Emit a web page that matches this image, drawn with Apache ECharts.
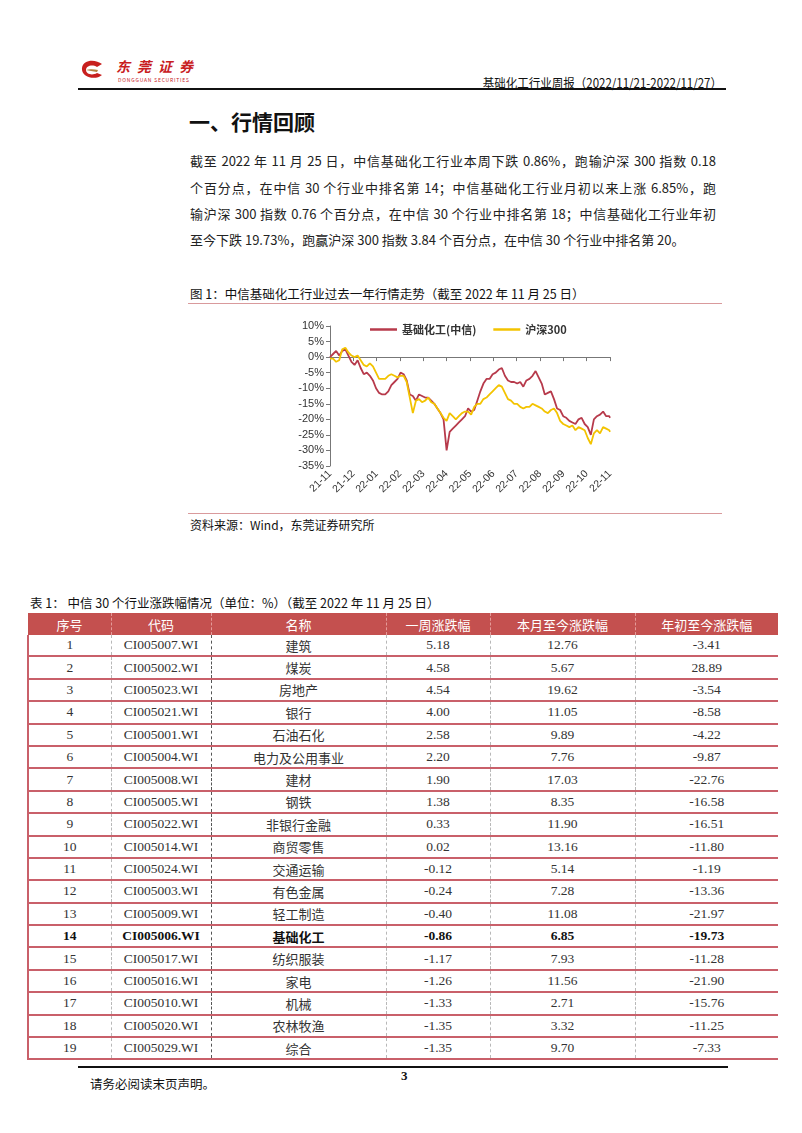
<!DOCTYPE html>
<html>
<head>
<meta charset="utf-8">
<script src="https://cdn.jsdelivr.net/npm/echarts@6/dist/echarts.min.js"></script>
<style>
  html, body { margin: 0; padding: 0; background: #fff; }
  body { width: 802px; height: 1133px; position: relative; overflow: hidden;
         font-family: "Noto Sans CJK SC", "Noto Sans", sans-serif; color: #222; }
  .abs { position: absolute; white-space: nowrap; }
  .serif { font-family: "Liberation Serif", "Noto Sans CJK SC", serif; }
  #para div { position: absolute; left: 190px; width: 526px; font-size: 13px; line-height: 20px;
              white-space: nowrap; text-align: justify; text-align-last: justify; text-justify: inter-character; }
  #para div.last { text-align-last: left; }
  .rule { position: absolute; height: 0; }
  #tbl { position: absolute; left: 27px; top: 613px; width: 750px; border-collapse: collapse; table-layout: fixed; }
  #tbl th { background: #c4504f; color: #fff; font-weight: normal; font-size: 13px; height: 22px; padding: 0;
            text-align: center; border-left: 1px dashed #e59a98; }
  #tbl th:first-child { border-left: 1px solid #c4504f; }
  #tbl td { height: 20.4px; padding: 0; text-align: center; font-size: 13.5px; color: #333;
            border-bottom: 2px solid #c9606a; border-left: 1px dashed #b8b8b8; }
  #tbl td:first-child { border-left: 2px solid #c9606a; }
  #tbl td.c2 { border-left: 1px dashed #555; }
  #tbl td.num { font-family: "Liberation Serif", serif; }
  #tbl td.cn { font-family: "Noto Sans CJK SC", sans-serif; font-size: 13px; }
  #tbl tr.hl td { font-weight: bold; color: #111; }
</style>
</head>
<body>

<!-- header -->
<svg class="abs" style="left:80px;top:60px" width="24" height="20" viewBox="0 0 24 20">
  <path d="M22 4 C16 -1 3 -1 2 8 C1 17 15 21 22 15 L17 13 C12 16 6 14 6 10 C6 6 12 4 17 7 Z" fill="#c8201e"/>
  <path d="M6 10 C9 9 14 9 18 10 L17 12 C13 11 9 11 6 10 Z" fill="#b5813d"/>
</svg>
<div class="abs" style="left:116px;top:57px;font-size:14px;line-height:18px;font-weight:bold;color:#c8201e;letter-spacing:7px;font-style:italic">东莞证券</div>
<div class="abs" style="left:118px;top:77px;font-size:5px;line-height:6px;color:#c8201e;letter-spacing:0.8px">DONGGUAN SECURITIES</div>
<div class="abs" style="right:80px;top:73px;font-size:12.5px;color:#111;transform:scaleX(0.92);transform-origin:right center">基础化工行业周报（2022/11/21-2022/11/27）</div>
<div class="rule" style="left:78px;top:88px;width:648px;border-top:2px solid #111"></div>

<!-- section -->
<div class="abs" style="left:189px;top:106px;font-size:21px;font-weight:bold;color:#111">一、行情回顾</div>
<div id="para">
  <div style="top:151px">截至 2022 年 11 月 25 日，中信基础化工行业本周下跌 0.86%，跑输沪深 300 指数 0.18</div>
  <div style="top:178px">个百分点，在中信 30 个行业中排名第 14；中信基础化工行业月初以来上涨 6.85%，跑</div>
  <div style="top:204px">输沪深 300 指数 0.76 个百分点，在中信 30 个行业中排名第 18；中信基础化工行业年初</div>
  <div class="last" style="top:230px">至今下跌 19.73%，跑赢沪深 300 指数 3.84 个百分点，在中信 30 个行业中排名第 20。</div>
</div>

<div class="abs" style="left:190px;top:284px;font-size:12.5px;color:#111">图 1：中信基础化工行业过去一年行情走势（截至 2022 年 11 月 25 日）</div>
<div class="rule" style="left:188px;top:303px;width:534px;border-top:1px solid #d99a9c"></div>
<div id="chart" class="abs" style="left:190px;top:305px;width:530px;height:206px"></div>
<div class="rule" style="left:188px;top:513px;width:534px;border-top:1px solid #d99a9c"></div>
<div class="abs" style="left:190px;top:516px;font-size:12px;color:#111">资料来源：Wind，东莞证券研究所</div>

<div class="abs" style="left:30px;top:593px;font-size:12.5px;color:#111">表 1：&nbsp;中信 30 个行业涨跌幅情况（单位：%）（截至 2022 年 11 月 25 日）</div>
<table id="tbl"></table>

<!-- footer -->
<div class="rule" style="left:78px;top:1066px;width:650px;border-top:2px solid #111"></div>
<div class="abs" style="left:90px;top:1074px;font-size:12.5px;color:#111">请务必阅读末页声明。</div>
<div class="abs serif" style="left:401px;top:1068px;font-size:13px;font-weight:bold;color:#111">3</div>

<script>
// ---- chart data (percent change since 2021-11-25) ----
var dates = [
  '2021-11-25','2021-11-29','2021-12-03','2021-12-07','2021-12-11','2021-12-15','2021-12-19','2021-12-23',
  '2021-12-27','2021-12-31','2022-01-04','2022-01-08','2022-01-12','2022-01-16','2022-01-20','2022-01-24',
  '2022-01-28','2022-02-01','2022-02-05','2022-02-09','2022-02-13','2022-02-17','2022-02-21','2022-02-25',
  '2022-03-01','2022-03-05','2022-03-09','2022-03-13','2022-03-17','2022-03-21','2022-03-25','2022-03-29',
  '2022-04-02','2022-04-06','2022-04-10','2022-04-14','2022-04-18','2022-04-22','2022-04-26','2022-04-30',
  '2022-05-04','2022-05-08','2022-05-12','2022-05-16','2022-05-20','2022-05-24','2022-05-28','2022-06-01',
  '2022-06-05','2022-06-09','2022-06-13','2022-06-17','2022-06-21','2022-06-25','2022-06-29','2022-07-03',
  '2022-07-07','2022-07-11','2022-07-15','2022-07-19','2022-07-23','2022-07-27','2022-07-31','2022-08-04',
  '2022-08-08','2022-08-12','2022-08-16','2022-08-20','2022-08-24','2022-08-28','2022-09-01','2022-09-05',
  '2022-09-09','2022-09-13','2022-09-17','2022-09-21','2022-09-25','2022-09-29','2022-10-03','2022-10-07',
  '2022-10-11','2022-10-15','2022-10-19','2022-10-23','2022-10-27','2022-10-31','2022-11-04','2022-11-08',
  '2022-11-12','2022-11-16','2022-11-20','2022-11-24','2022-11-25'
];
var chemValues = [
  0.0, 1.0, 2.0, 0.5, 2.0, 2.5, 0.5, -1.5,
  -2.5, -1.0, -3.5, -5.5, -5.0, -6.0, -7.5, -10.0,
  -11.5, -12.0, -12.0, -11.0, -9.0, -8.0, -7.0, -5.0,
  -5.5, -7.5, -12.0, -12.5, -14.0, -12.0, -12.5, -13.0,
  -13.0, -14.0, -15.0, -16.5, -18.0, -20.0, -30.0, -24.0,
  -23.0, -22.0, -21.0, -20.0, -19.0, -16.5, -17.5, -17.0,
  -14.0, -11.0, -8.5, -7.0, -7.0, -5.5, -5.0, -4.0,
  -3.5, -6.0, -7.5, -8.0, -8.0, -8.5, -8.0, -9.5,
  -7.5, -7.0, -6.0, -4.5, -6.5, -8.5, -12.0, -11.5,
  -11.0, -13.5, -16.5, -17.0, -19.0, -19.5, -20.5, -21.0,
  -21.5, -20.0, -19.5, -21.5, -22.5, -25.0, -20.0, -19.0,
  -18.5, -17.5, -19.0, -19.0, -19.5
];
var hs300Values = [
  -0.5, -0.5, -1.5, -1.0, 2.5, 3.0, 1.5, 0.5,
  0.0, 0.5, -1.0, -2.5, -3.0, -2.0, -3.0, -5.0,
  -7.0, -7.0, -7.0, -6.0, -5.5, -6.0, -6.5, -6.0,
  -6.0, -8.0, -13.0, -18.0, -14.0, -13.5, -14.5, -14.0,
  -13.0, -14.5, -15.0, -16.5, -18.0, -19.5, -20.5, -18.0,
  -19.0, -20.0, -19.0, -18.0, -17.5, -17.5, -18.5, -16.0,
  -15.0, -15.0, -13.5, -13.0, -12.0, -11.0, -10.0, -9.0,
  -9.5, -11.5, -13.5, -14.0, -15.0, -15.0, -16.0, -16.5,
  -16.0, -16.0, -15.0, -15.5, -16.0, -16.5, -17.5, -18.0,
  -17.0, -16.5, -18.0, -20.5, -21.5, -22.0, -22.5, -22.0,
  -23.5, -22.5, -23.0, -23.5, -26.0, -28.0, -24.5, -23.5,
  -24.5, -22.5, -23.0, -23.5, -24.0
];
var seriesNames = ['基础化工(中信)', '沪深300'];

// ---- table data ----
var rankNo = [1, 2, 3, 4, 5, 6, 7, 8, 9, 10, 11, 12, 13, 14, 15, 16, 17, 18, 19];
var codes = ['CI005007.WI','CI005002.WI','CI005023.WI','CI005021.WI','CI005001.WI','CI005004.WI','CI005008.WI',
  'CI005005.WI','CI005022.WI','CI005014.WI','CI005024.WI','CI005003.WI','CI005009.WI','CI005006.WI',
  'CI005017.WI','CI005016.WI','CI005010.WI','CI005020.WI','CI005029.WI'];
var names = ['建筑','煤炭','房地产','银行','石油石化','电力及公用事业','建材','钢铁','非银行金融','商贸零售',
  '交通运输','有色金属','轻工制造','基础化工','纺织服装','家电','机械','农林牧渔','综合'];
var weekChg = ['5.18','4.58','4.54','4.00','2.58','2.20','1.90','1.38','0.33','0.02','-0.12','-0.24','-0.40',
  '-0.86','-1.17','-1.26','-1.33','-1.35','-1.35'];
var monthChg = ['12.76','5.67','19.62','11.05','9.89','7.76','17.03','8.35','11.90','13.16','5.14','7.28','11.08',
  '6.85','7.93','11.56','2.71','3.32','9.70'];
var ytdChg = ['-3.41','28.89','-3.54','-8.58','-4.22','-9.87','-22.76','-16.58','-16.51','-11.80','-1.19','-13.36',
  '-21.97','-19.73','-11.28','-21.90','-15.76','-11.25','-7.33'];
var headers = ['序号','代码','名称','一周涨跌幅','本月至今涨跌幅','年初至今涨跌幅'];
var colWidths = [83, 100, 175, 104, 145, 143];

(function () {
  'use strict';

  // table
  var html = '<colgroup>';
  colWidths.forEach(function (w) { html += '<col style="width:' + w + 'px">'; });
  html += '</colgroup><tr>';
  headers.forEach(function (h) { html += '<th>' + h + '</th>'; });
  html += '</tr>';
  rankNo.forEach(function (n, i) {
    var hl = names[i] === '基础化工' ? ' class="hl"' : '';
    html += '<tr' + hl + '>' +
      '<td class="num">' + n + '</td>' +
      '<td class="num">' + codes[i] + '</td>' +
      '<td class="cn c2">' + names[i] + '</td>' +
      '<td class="num">' + weekChg[i] + '</td>' +
      '<td class="num">' + monthChg[i] + '</td>' +
      '<td class="num">' + ytdChg[i] + '</td></tr>';
  });
  document.getElementById('tbl').innerHTML = html;

  // chart
  function ts(s) { return Date.parse(s + 'T00:00:00Z'); }
  var t0 = ts(dates[0]), t1 = ts(dates[dates.length - 1]);
  var step = (t1 - t0) / 12;
  function pairs(vals) { return dates.map(function (d, i) { return [ts(d), vals[i]]; }); }

  var chart = echarts.init(document.getElementById('chart'), null, { renderer: 'canvas' });
  chart.setOption({
    animation: false,
    backgroundColor: '#fff',
    grid: { left: 140, top: 21, width: 280, height: 140 },
    legend: {
      top: 14, left: 175,
      icon: 'rect', itemWidth: 27, itemHeight: 2.5, itemGap: 17,
      textStyle: { fontSize: 11, fontWeight: 'bold', color: '#333', fontFamily: 'Noto Sans CJK SC' },
      data: seriesNames
    },
    xAxis: {
      type: 'value', min: t0, max: t1, interval: step,
      axisLine: { show: true, lineStyle: { color: '#777', width: 1 } },
      axisTick: { show: true, length: 4, lineStyle: { color: '#777' } },
      splitLine: { show: false },
      axisLabel: {
        rotate: 45, fontSize: 10.5, color: '#333', margin: 6, fontFamily: 'Liberation Sans',
        showMaxLabel: true, showMinLabel: true,
        formatter: function (v) {
          var d = new Date(v + 3600000);
          var m = d.getUTCMonth() + 1;
          return String(d.getUTCFullYear()).slice(2) + '-' + (m < 10 ? '0' + m : m);
        }
      }
    },
    yAxis: {
      type: 'value', min: -35, max: 10, interval: 5,
      axisLine: { show: true, lineStyle: { color: '#777', width: 1 } },
      axisTick: { show: true, length: 4, lineStyle: { color: '#777' } },
      splitLine: { show: false },
      axisLabel: { fontSize: 11, color: '#333', margin: 6, fontFamily: 'Liberation Sans',
                   formatter: function (v) { return v + '%'; } }
    },
    series: [
      { name: seriesNames[0], type: 'line', data: pairs(chemValues), showSymbol: false, symbol: 'none',
        lineStyle: { color: '#b73a4b', width: 1.8 }, itemStyle: { color: '#b73a4b' } },
      { name: seriesNames[1], type: 'line', data: pairs(hs300Values), showSymbol: false, symbol: 'none',
        lineStyle: { color: '#f3c300', width: 1.8 }, itemStyle: { color: '#f3c300' } }
    ]
  });
})();
</script>
</body>
</html>
